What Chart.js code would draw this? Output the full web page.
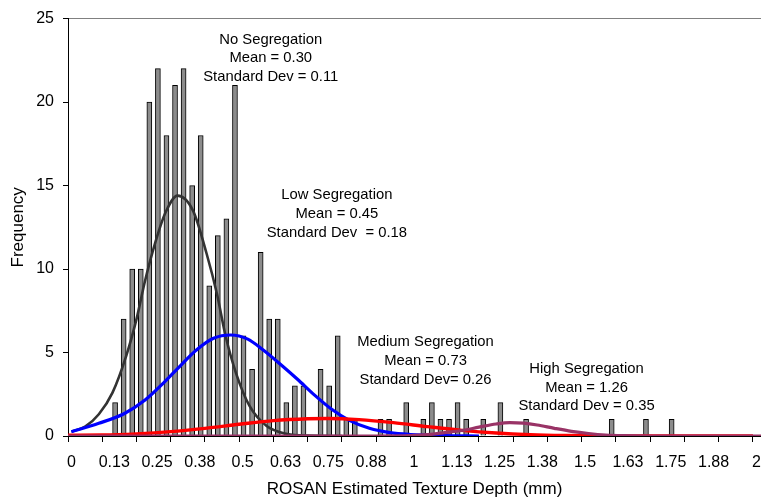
<!DOCTYPE html>
<html>
<head>
<meta charset="utf-8">
<title>ROSAN texture depth histogram</title>
<script src="https://cdn.jsdelivr.net/npm/chart.js@4/dist/chart.umd.min.js"></script>
<style>
  html, body { margin: 0; padding: 0; background: #fff; }
  #wrap { width: 761px; height: 498px; position: relative; }
</style>
</head>
<body>
<div id="wrap"><canvas id="hist"></canvas></div>
<script>
// Histogram bins: 0.025 mm wide, starting at 0
const binWidth = 0.025;
const frequency = [
  0, 0, 0, 0, 0, 2, 7, 10, 10, 20,
  22, 18, 21, 22, 15, 18, 9, 12, 13, 21,
  6, 4, 11, 7, 7, 2, 3, 3, 0, 4,
  3, 6, 1, 1, 0, 0, 1, 1, 0, 2,
  0, 1, 2, 1, 1, 2, 1, 0, 1, 0,
  2, 0, 0, 1, 0, 0, 0, 0, 0, 0,
  0, 0, 0, 1, 0, 0, 0, 1, 0, 0,
  1, 0, 0, 0, 0, 0, 0, 0, 0, 0
];

// Fitted curves (expected frequency per bin)
const noSegX = [0.01, 0.05, 0.09, 0.13, 0.17, 0.2, 0.225, 0.255, 0.285, 0.32, 0.365, 0.405, 0.435, 0.46, 0.49, 0.53, 0.58, 0.64, 0.7, 0.8];
const noSegY = [0.26, 0.56, 1.3, 2.6, 4.8, 7.0, 9.3, 11.6, 13.4, 14.4, 13.5, 10.9, 8.5, 6.0, 3.8, 1.8, 0.6, 0.12, 0.02, 0];

const lowSegX = [0.01, 0.09, 0.165, 0.225, 0.28, 0.33, 0.375, 0.425, 0.475, 0.525, 0.57, 0.62, 0.67, 0.72, 0.77, 0.82, 0.88, 0.94, 1.0, 1.1, 1.2];
const lowSegY = [0.26, 0.76, 1.35, 2.15, 3.2, 4.25, 5.15, 5.85, 6.05, 5.8, 5.15, 4.3, 3.4, 2.45, 1.6, 0.95, 0.46, 0.2, 0.09, 0.02, 0];

const medSegX = [0, 0.1, 0.2, 0.3, 0.4, 0.5, 0.6, 0.7, 0.76, 0.85, 0.95, 1.05, 1.15, 1.25, 1.35, 1.45, 1.55, 1.7, 2.0];
const medSegY = [0.05, 0.06, 0.13, 0.26, 0.46, 0.7, 0.92, 1.03, 1.05, 0.98, 0.8, 0.56, 0.34, 0.18, 0.08, 0.03, 0.01, 0, 0];

const highSegX = [0, 0.9, 1.0, 1.06, 1.1, 1.15, 1.2, 1.25, 1.29, 1.33, 1.37, 1.42, 1.47, 1.52, 1.57, 1.62, 1.7, 2.03];
const highSegY = [0, 0, 0.02, 0.1, 0.2, 0.33, 0.53, 0.72, 0.8, 0.77, 0.66, 0.46, 0.28, 0.15, 0.06, 0.02, 0, 0];

// Axis labels at every 0.125 mm, tick marks at every 0.1 mm
const xTickLabels = ['0', '0.13', '0.25', '0.38', '0.5', '0.63', '0.75', '0.88', '1',
                     '1.13', '1.25', '1.38', '1.5', '1.63', '1.75', '1.88', '2'];

const notes = [
  { x: 0.592, y: 23.5,  lines: ['No Segregation', 'Mean = 0.30', 'Standard Dev = 0.11'] },
  { x: 0.785, y: 14.19, lines: ['Low Segregation', 'Mean = 0.45', 'Standard Dev  = 0.18'] },
  { x: 1.044, y: 5.37,  lines: ['Medium Segregation', 'Mean = 0.73', 'Standard Dev= 0.26'] },
  { x: 1.514, y: 3.78,  lines: ['High Segregation', 'Mean = 1.26', 'Standard Dev = 0.35'] }
];

// tick positions in units of 1/40 mm: multiples of 4 get a mark, of 5 a label
const tickSteps = [];
for (let n = 0; n <= 80; n++) {
  if (n % 4 === 0 || n % 5 === 0) tickSteps.push(n);
}
const stepOf = v => Math.round(v * 40);

const toPoints = (xs, ys) => xs.map((x, i) => ({ x: x, y: ys[i] }));

const noteLabels = {
  id: 'noteLabels',
  afterDatasetsDraw(chart) {
    const { ctx, scales } = chart;
    ctx.save();
    ctx.fillStyle = '#000';
    ctx.font = '14.8px "Liberation Sans", Arial, sans-serif';
    ctx.textAlign = 'center';
    ctx.textBaseline = 'alphabetic';
    notes.forEach(n => {
      const px = scales.x.getPixelForValue(n.x);
      const py = scales.y.getPixelForValue(n.y);
      n.lines.forEach((line, k) => ctx.fillText(line, px, py + k * 18.8));
    });
    ctx.restore();
  }
};

Chart.defaults.font.family = '"Liberation Sans", Arial, sans-serif';
Chart.defaults.color = '#000';

const lineStyle = { pointRadius: 0, fill: false, cubicInterpolationMode: 'monotone', borderJoinStyle: 'round' };

new Chart(document.getElementById('hist'), {
  type: 'bar',
  data: {
    datasets: [
      Object.assign({ type: 'line', label: 'High Segregation', data: toPoints(highSegX, highSegY),
        borderColor: '#993366', borderWidth: 3.2, order: 1 }, lineStyle),
      Object.assign({ type: 'line', label: 'Medium Segregation', data: toPoints(medSegX, medSegY),
        borderColor: '#ff0000', borderWidth: 3.4, order: 2 }, lineStyle),
      Object.assign({ type: 'line', label: 'Low Segregation', data: toPoints(lowSegX, lowSegY),
        borderColor: '#0000ff', borderWidth: 3.2, order: 3 }, lineStyle),
      Object.assign({ type: 'line', label: 'No Segregation', data: toPoints(noSegX, noSegY),
        borderColor: '#333333', borderWidth: 2.6, order: 4 }, lineStyle),
      {
        type: 'bar',
        label: 'Frequency',
        data: frequency.map((f, i) => ({ x: (i + 0.5) * binWidth, y: f || null })),
        backgroundColor: '#8c8c8c',
        borderColor: '#000',
        borderWidth: 1,
        barThickness: 5,
        order: 10
      }
    ]
  },
  options: {
    responsive: true,
    maintainAspectRatio: false,
    animation: false,
    events: [],
    layout: { padding: { top: 17, right: 0, bottom: 0, left: 0 } },
    plugins: {
      legend: { display: false },
      tooltip: { enabled: false }
    },
    scales: {
      x: {
        type: 'linear',
        offset: false,
        min: 0,
        max: 2.0234,
        afterBuildTicks: s => { s.ticks = tickSteps.map(n => ({ value: n / 40 })); },
        afterFit: s => {
          s.height = 62;
          // the axis runs on past the last label, so no end padding is needed
          s.paddingLeft = 0;
          s.paddingRight = 0;
        },
        ticks: {
          autoSkip: false,
          maxRotation: 0,
          minRotation: 0,
          labelOffset: 3.4,
          padding: 11,
          font: { size: 16 },
          callback: v => (stepOf(v) % 5 === 0 ? xTickLabels[stepOf(v) / 5] : '')
        },
        grid: {
          offset: false,
          drawOnChartArea: false,
          tickLength: 6,
          tickColor: c => (c.tick && stepOf(c.tick.value) % 4 === 0 ? '#000' : 'rgba(0,0,0,0)')
        },
        border: { color: '#000', width: 1 },
        title: {
          display: true,
          text: 'ROSAN Estimated Texture Depth (mm)',
          font: { size: 17 },
          padding: { top: 0, bottom: -2 }
        }
      },
      y: {
        min: 0,
        max: 25,
        afterFit: s => { s.width = 68; },
        ticks: { stepSize: 5, padding: 9, font: { size: 16 } },
        grid: {
          color: c => (c.tick && c.tick.value === 25 ? '#808080' : 'rgba(0,0,0,0)'),
          tickColor: '#000',
          tickLength: 5
        },
        border: { color: '#000', width: 1 },
        title: {
          display: true,
          text: 'Frequency',
          font: { size: 17 },
          padding: { top: 8, bottom: 0 }
        }
      }
    }
  },
  plugins: [noteLabels]
});
</script>
</body>
</html>
